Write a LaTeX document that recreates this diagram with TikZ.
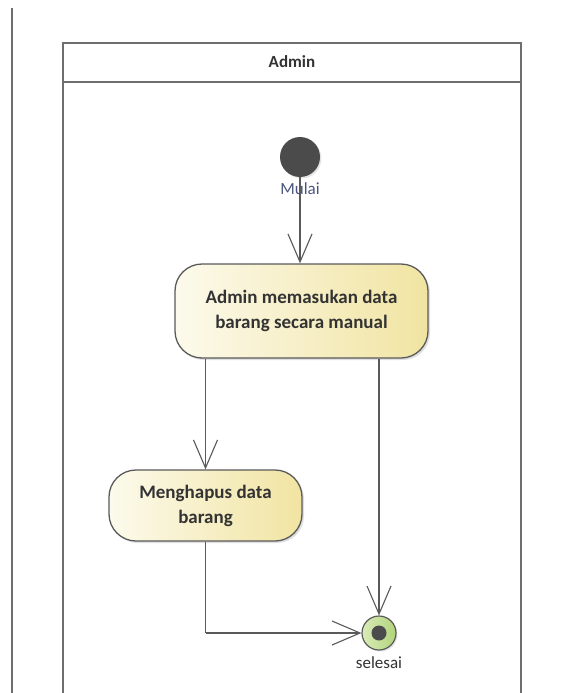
\documentclass[tikz,border=0pt]{standalone}
\usepackage{fontspec}
\setmainfont{Carlito}
\usetikzlibrary{arrows.meta,shadows}
\definecolor{linegray}{HTML}{5A5A5A}
\definecolor{lanegray}{HTML}{6E6E6E}
\definecolor{startgray}{HTML}{4B4B4B}
\definecolor{creamL}{HTML}{FCFAEC}
\definecolor{yellowR}{HTML}{F1E4A2}
\definecolor{endgreenL}{HTML}{D9EBB8}
\definecolor{endgreenR}{HTML}{B2D47A}
\definecolor{labelblue}{HTML}{4A5580}
\definecolor{textdark}{HTML}{333333}
\begin{document}
\begin{tikzpicture}[x=1pt,y=-1pt,
  lane/.style={draw=lanegray, line width=2pt},
  action/.style={draw=linegray, line width=1.3pt, rounded corners=27pt,
    left color=creamL, right color=yellowR, align=center,
    font=\fontsize{19}{25}\selectfont\bfseries, text=textdark,
    drop shadow={shadow xshift=2pt, shadow yshift=-2pt, opacity=0.25}},
  flow/.style={draw=linegray, line width=1.1pt,
    -{Straight Barb[length=28pt, width=24pt, line width=1.1pt]}},
  plain/.style={draw=linegray, line width=1.1pt},
  lbl/.style={font=\fontsize{17}{19}\selectfont}
]
\useasboundingbox (0,0) rectangle (561,693);
\fill[white] (0,0) rectangle (561,693);

% left border line
\draw[lanegray, line width=2pt] (12,8) -- (12,693);

% swimlane
\draw[lane] (63,693) -- (63,43) -- (521,43) -- (521,693);
\draw[lane] (63,82) -- (521,82);
\node[font=\fontsize{17}{19}\selectfont\bfseries, text=textdark] (lanehead) at (292,62) {Admin};

% start
\node[circle, fill=startgray, minimum size=40pt, inner sep=0pt,
  drop shadow={shadow xshift=1.5pt, shadow yshift=-1.5pt, opacity=0.2}] (start) at (300,157) {};
\node[lbl, text=labelblue] (mulai) at (300,189) {Mulai};

% actions
\node[action, minimum width=253pt, minimum height=94pt] (act1) at (301.5,311)
  {Admin memasukan data\\barang secara manual};
\node[action, minimum width=193pt, minimum height=71pt] (act2) at (205.5,505.5)
  {Menghapus data\\barang};

% end
\node[circle, draw=linegray, line width=1.2pt, left color=endgreenL, right color=endgreenR,
  minimum size=34pt, inner sep=0pt,
  drop shadow={shadow xshift=1.5pt, shadow yshift=-1.5pt, opacity=0.2}] (final) at (379,633) {};
\fill[startgray] (final.center) circle (7.5pt);
\node[lbl, text=textdark] (selesai) at (379,663) {selesai};

% flows
\draw[flow] (start.south) -- (act1.north -| start.south);
\draw[flow] (act1.south -| act2.north) -- (act2.north);
\draw[flow] (act1.south -| final.north) -- (final.north);
\coordinate (bend) at (act2.south |- final.west);
\draw[plain] (act2.south) -- (bend);
\draw[flow] (bend) -- (final.west);
\end{tikzpicture}
\end{document}
